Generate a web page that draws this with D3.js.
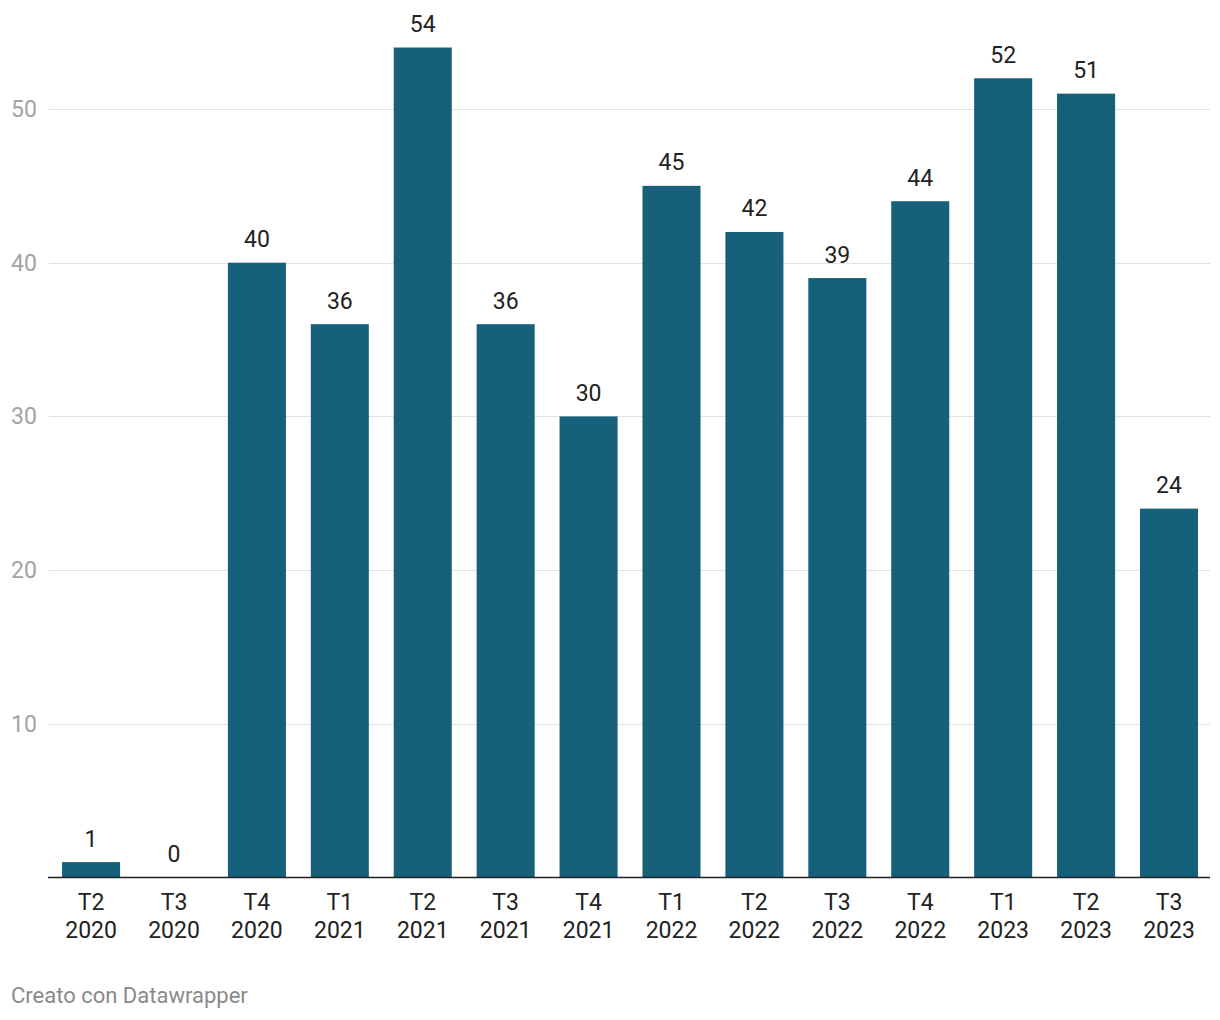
<!DOCTYPE html>
<html>
<head>
<meta charset="utf-8">
<script src="https://cdn.jsdelivr.net/npm/d3@7"></script>
<style>
  html, body { margin: 0; padding: 0; background: #fff; }
  svg { display: block; font-family: Roboto, "Noto Sans", sans-serif; }
</style>
</head>
<body>
<svg id="chart" width="1220" height="1020"></svg>
<script>
const quarters = ["T2", "T3", "T4", "T1", "T2", "T3", "T4", "T1", "T2", "T3", "T4", "T1", "T2", "T3"];
const years = ["2020", "2020", "2020", "2021", "2021", "2021", "2021", "2022", "2022", "2022", "2022", "2023", "2023", "2023"];
const values = [1, 0, 40, 36, 54, 36, 30, 45, 42, 39, 44, 52, 51, 24];
const yTicks = [10, 20, 30, 40, 50];
const footer = "Creato con Datawrapper";

const categories = quarters.map((q, i) => q + " " + years[i]);
const data = categories.map((c, i) => ({ key: c, q: quarters[i], y: years[i], v: values[i] }));

const svg = d3.select("#chart");
const left = 48, right = 1210, bottom = 877.5;

const x = d3.scaleBand().domain(categories).range([left, right])
  .paddingInner(0.3).paddingOuter(0.157).align(0.54);
const y = d3.scaleLinear().domain([0, 50]).range([bottom, 109]);

// gridlines
svg.append("g").selectAll("line").data(yTicks).join("line")
  .attr("x1", left + 1).attr("x2", right)
  .attr("y1", d => Math.round(y(d)) + 0.5).attr("y2", d => Math.round(y(d)) + 0.5)
  .attr("stroke", "#e2e2e2").attr("stroke-width", 1);

// y labels
svg.append("g").selectAll("text").data(yTicks).join("text")
  .attr("x", 11).attr("y", d => y(d))
  .attr("dy", "0.35em")
  .attr("font-size", 23).attr("fill", "#a3a3a3")
  .text(d => d);

// bars
svg.append("g").selectAll("rect").data(data).join("rect")
  .attr("x", d => x(d.key)).attr("width", x.bandwidth())
  .attr("y", d => y(d.v)).attr("height", d => bottom - y(d.v))
  .attr("fill", "#17607a");

// value labels
svg.append("g").selectAll("text").data(data).join("text")
  .attr("x", d => x(d.key) + x.bandwidth() / 2)
  .attr("y", d => y(d.v) - 15.5)
  .attr("text-anchor", "middle")
  .attr("font-size", 23).attr("fill", "#222")
  .text(d => d.v);

// baseline
svg.append("line")
  .attr("x1", left).attr("x2", right)
  .attr("y1", bottom).attr("y2", bottom)
  .attr("stroke", "#222").attr("stroke-width", 1.5);

// x labels
const xl = svg.append("g").selectAll("text").data(data).join("text")
  .attr("text-anchor", "middle")
  .attr("font-size", 23).attr("fill", "#222");
xl.append("tspan").attr("x", d => x(d.key) + x.bandwidth() / 2).attr("y", 910).text(d => d.q);
xl.append("tspan").attr("x", d => x(d.key) + x.bandwidth() / 2).attr("y", 938).text(d => d.y);

// footer
svg.append("text").attr("x", 11).attr("y", 1003)
  .attr("font-size", 22).attr("fill", "#8a8a8a")
  .text(footer);
</script>
</body>
</html>
